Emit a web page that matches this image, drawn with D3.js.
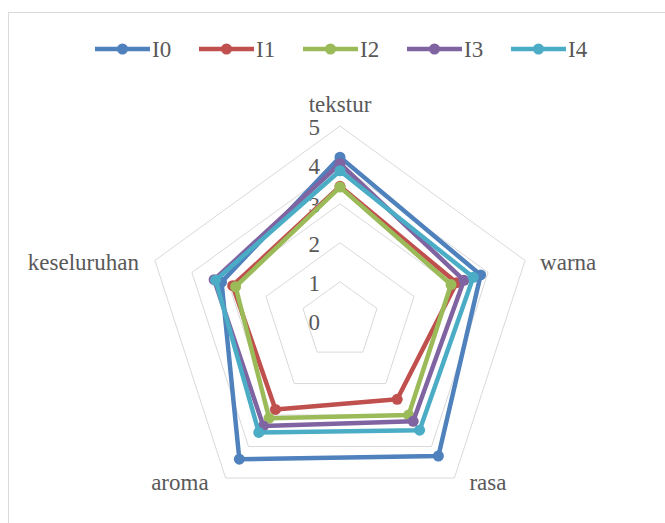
<!DOCTYPE html>
<html>
<head>
<meta charset="utf-8">
<script src="https://cdn.jsdelivr.net/npm/d3@7"></script>
<style>
  html, body { margin: 0; padding: 0; background: #fff; }
  svg text { font-family: "Liberation Serif", "Times New Roman", serif; fill: #595959; }
</style>
</head>
<body>
<svg id="chart" width="665" height="523"></svg>
<script>
// Sensory attributes, clockwise from the top
const categories = ["tekstur", "warna", "rasa", "aroma", "keseluruhan"];
const seriesNames = ["I0", "I1", "I2", "I3", "I4"];
const I0 = [4.2, 3.8, 4.3, 4.4, 3.2];
const I1 = [3.45, 3.15, 2.5, 2.82, 2.9];
const I2 = [3.43, 3.0, 3.0, 3.1, 2.82];
const I3 = [4.03, 3.35, 3.2, 3.35, 3.4];
const I4 = [3.85, 3.6, 3.48, 3.55, 3.36];
const tickValues = [0, 1, 2, 3, 4, 5];
const colors = ["#4F81BD", "#C0504D", "#9BBB59", "#8064A2", "#4BACC6"];

const series = [I0, I1, I2, I3, I4].map((values, i) => ({
  name: seriesNames[i], values, color: colors[i]
}));

const svg = d3.select("#chart");
const cx = 340, cy = 320.6, R = 194.6;

// chart-area frame
svg.append("rect")
  .attr("x", 8.5).attr("y", 12.5)
  .attr("width", 700).attr("height", 600)
  .attr("fill", "none").attr("stroke", "#D9D9D9").attr("stroke-width", 1);

const r = d3.scaleLinear().domain([0, 5]).range([0, R]);
const angle = d3.scalePoint().domain(categories).range([0, 2 * Math.PI * 4 / 5]);

const g = svg.append("g").attr("transform", `translate(${cx},${cy})`);

// concentric pentagon gridlines
tickValues.filter(v => v > 0).forEach(v => {
  const line = d3.lineRadial().curve(d3.curveLinearClosed)
    .angle(d => angle(d)).radius(() => r(v));
  g.append("path")
    .attr("d", line(categories))
    .attr("fill", "none")
    .attr("stroke", "#D9D9D9")
    .attr("stroke-width", 1);
});

// value axis labels
g.selectAll("text.tick")
  .data(tickValues)
  .join("text")
  .attr("class", "tick")
  .attr("x", -20)
  .attr("y", d => -r(d) + 9)
  .attr("text-anchor", "end")
  .attr("font-size", 23)
  .text(d => d);

// category labels around the outside
const labelPos = {
  tekstur:     { dx: 0,   dy: -14, anchor: "middle" },
  warna:       { dx: 15,  dy: 10,  anchor: "start" },
  rasa:        { dx: 15,  dy: 12,  anchor: "start" },
  aroma:       { dx: -17, dy: 12,  anchor: "end" },
  keseluruhan: { dx: -16, dy: 10,  anchor: "end" }
};
categories.forEach(c => {
  const a = angle(c);
  const x = r(5) * Math.sin(a), y = -r(5) * Math.cos(a);
  const p = labelPos[c];
  g.append("text")
    .attr("x", x + p.dx)
    .attr("y", y + p.dy)
    .attr("text-anchor", p.anchor)
    .attr("font-size", 23)
    .text(c);
});

// series polygons with markers
const radial = d3.lineRadial().curve(d3.curveLinearClosed)
  .angle((d, i) => angle(categories[i]))
  .radius(d => r(d));

series.forEach(s => {
  const sg = g.append("g");
  sg.append("path")
    .attr("d", radial(s.values))
    .attr("fill", "none")
    .attr("stroke", s.color)
    .attr("stroke-width", 4.5)
    .attr("stroke-linejoin", "round");
  sg.selectAll("circle")
    .data(s.values)
    .join("circle")
    .attr("cx", (d, i) => r(d) * Math.sin(angle(categories[i])))
    .attr("cy", (d, i) => -r(d) * Math.cos(angle(categories[i])))
    .attr("r", 5.5)
    .attr("fill", s.color);
});

// legend
const legendX = d3.scalePoint().domain(seriesNames).range([95, 511]);
const lg = svg.append("g");
series.forEach(s => {
  const x0 = legendX(s.name), y0 = 49;
  lg.append("line")
    .attr("x1", x0).attr("x2", x0 + 55)
    .attr("y1", y0).attr("y2", y0)
    .attr("stroke", s.color).attr("stroke-width", 4.5);
  lg.append("circle")
    .attr("cx", x0 + 27.5).attr("cy", y0).attr("r", 5.5)
    .attr("fill", s.color);
  lg.append("text")
    .attr("x", x0 + 57).attr("y", y0 + 8)
    .attr("font-size", 23)
    .text(s.name);
});
</script>
</body>
</html>
